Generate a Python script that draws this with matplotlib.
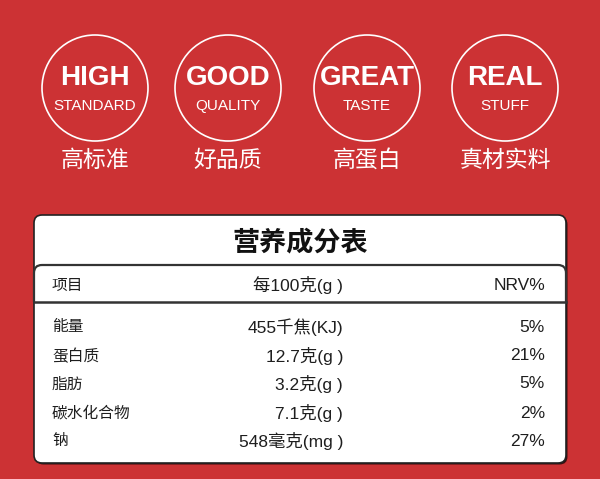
import matplotlib.pyplot as plt
from matplotlib.patches import Circle, FancyBboxPatch, Rectangle

# badge texts
badge_main = ["HIGH", "GOOD", "GREAT", "REAL"]
badge_sub = ["STANDARD", "QUALITY", "TASTE", "STUFF"]
badge_cn = ["高标准", "好品质", "高蛋白", "真材实料"]

# nutrition table
table_title = "营养成分表"
header = ["项目", "每100克(g )", "NRV%"]
items = ["能量", "蛋白质", "脂肪", "碳水化合物", "钠"]
amounts = ["455千焦(KJ)", "12.7克(g )", "3.2克(g )", "7.1克(g )", "548毫克(mg )"]
nrv = [5, 21, 5, 2, 27]

RED = "#cc3234"
DARK = "#222222"
TXT = "#1e1e1e"
mixed = ["Liberation Sans", "Noto Sans CJK SC"]

fig = plt.figure(figsize=(6, 4.79), dpi=100)
fig.patch.set_facecolor(RED)
ax = fig.add_axes([0, 0, 1, 1])
ax.set_xlim(0, 600)
ax.set_ylim(479, 0)
ax.axis("off")

# badges
cx = [95, 228, 367, 505]
for i in range(len(badge_main)):
    ax.add_patch(Circle((cx[i], 88), 53, fill=False, ec="white", lw=1.2))
    ax.text(cx[i], 78, badge_main[i], color="white", fontsize=20, fontweight="bold",
            family="Liberation Sans", ha="center", va="center")
    ax.text(cx[i], 106, badge_sub[i], color="white", fontsize=11,
            family="Liberation Sans", ha="center", va="center")
    ax.text(cx[i], 160, badge_cn[i], color="white", fontsize=16.5,
            family="Noto Sans CJK SC", ha="center", va="center")

# table box (with a small shadow)
x0, x1, y0, y1 = 34, 566, 215, 463
ax.add_patch(FancyBboxPatch((x0 + 1.5, y0 + 1.5), x1 - x0, y1 - y0,
                            boxstyle="round,pad=0,rounding_size=8", fc="#3a1010", ec="none"))
ax.add_patch(FancyBboxPatch((x0, y0), x1 - x0, y1 - y0,
                            boxstyle="round,pad=0,rounding_size=8", fc="white", ec=DARK, lw=1.2))
ax.text(300, 242, table_title, fontsize=19.5, fontweight="bold", family="Noto Sans CJK SC",
        ha="center", va="center", color="#111111")

# header band: rounded on top only
band = FancyBboxPatch((x0, 265), x1 - x0, 60,
                      boxstyle="round,pad=0,rounding_size=8", fc="none", ec="#333333", lw=1.6)
ax.add_patch(band)
clip = Rectangle((x0 - 5, 260), x1 - x0 + 10, 42, transform=ax.transData)
band.set_clip_path(clip)
ax.plot([x0, x1], [302, 302], color="#333333", lw=1.8)

ax.text(52, 285, header[0], fontsize=11.3, family=mixed, ha="left", va="center", color=TXT)
ax.text(343, 285, header[1], fontsize=12.5, family=mixed, ha="right", va="center", color=TXT)
ax.text(545, 285, header[2], fontsize=12.5, family=mixed, ha="right", va="center", color=TXT)

row_y = [327, 356, 384, 413, 441]
for i in range(len(items)):
    ax.text(52, row_y[i], items[i], fontsize=11.3, family=mixed, ha="left", va="center", color=TXT)
    ax.text(343, row_y[i], amounts[i], fontsize=12.5, family=mixed, ha="right", va="center", color=TXT)
    ax.text(545, row_y[i], f"{nrv[i]}%", fontsize=12.5, family=mixed, ha="right", va="center", color=TXT)

fig.savefig("out.png", dpi=100, facecolor=RED)
